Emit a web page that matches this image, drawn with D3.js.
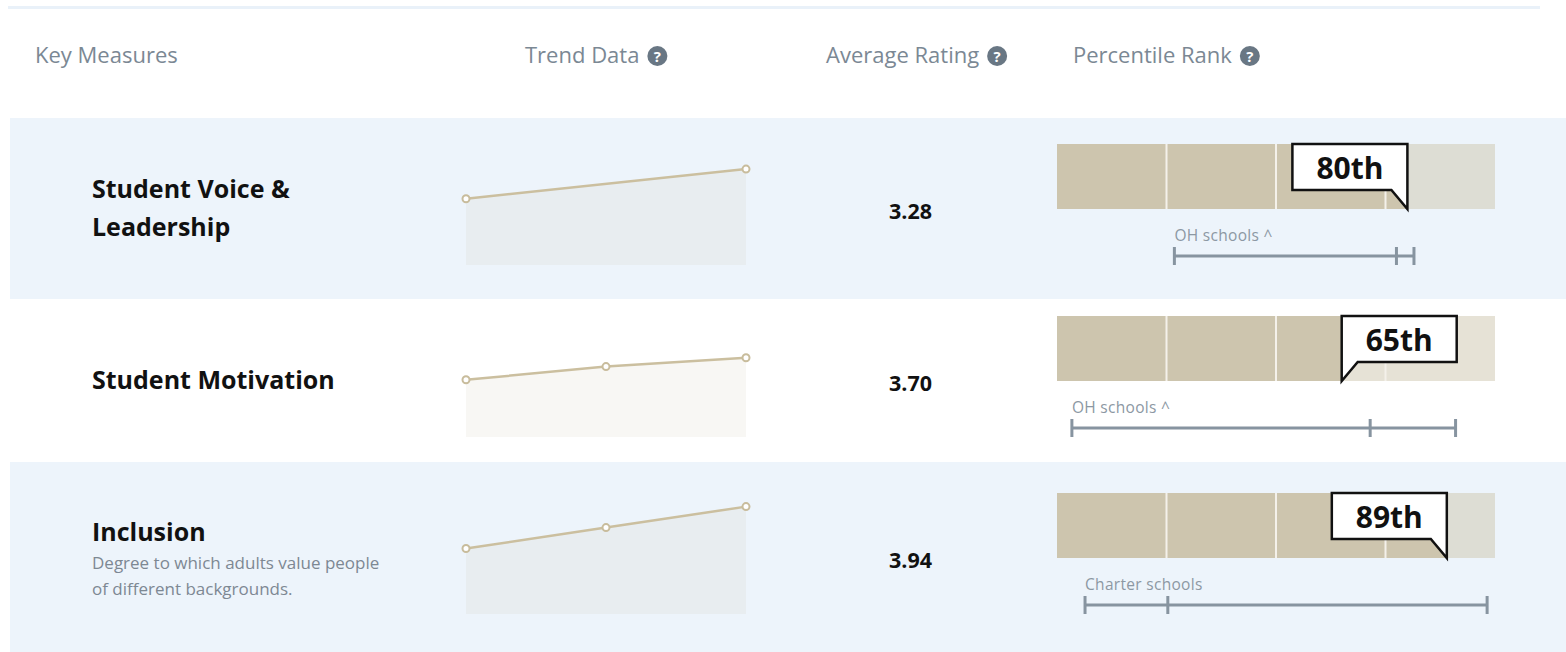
<!DOCTYPE html>
<html>
<head>
<meta charset="utf-8">
<script src="https://cdn.jsdelivr.net/npm/d3@7"></script>
<style>
  body { margin: 0; background: #fff; }
  text { font-family: "Open Sans", "Noto Sans", sans-serif; }
</style>
</head>
<body>
<div id="chart"></div>
<script>
// Data
var headers = ["Key Measures", "Trend Data", "Average Rating", "Percentile Rank"];
var titleLines = [["Student Voice &", "Leadership"], ["Student Motivation"], ["Inclusion"]];
var descLines = [[], [], ["Degree to which adults value people", "of different backgrounds."]];
var averageRatings = [3.28, 3.70, 3.94];
var trendValues = [[3.07, 3.28], [3.55, 3.64, 3.70], [3.62, 3.78, 3.94]];
var trendDomains = [[2.60, 3.38], [3.16, 3.91], [3.12, 3.96]];
var percentiles = [80, 65, 89];
var compGroups = ["OH schools ^", "OH schools ^", "Charter schools"];
var rangeLow = [26.8, 3.4, 6.4];
var rangeMark = [77.5, 71.5, 25.3];
var rangeHigh = [81.5, 91, 98.2];

// Layout
var W = 1566, H = 652;
var rowTops = [118, 299, 462],
    rowBottoms = [299, 462, 660],
    rowMids = [208, 380, 557],
    rowFills = ["#edf4fb", "#ffffff", "#edf4fb"];
var beige = "#cdc5ae";

var svg = d3.select('#chart').append('svg')
    .attr('width', W)
    .attr('height', H);

// top rule
svg.append('rect')
    .attr('x', 8).attr('y', 6)
    .attr('width', 1532).attr('height', 3)
    .style('fill', '#e9f1f9');

// Header
var headerX = [35, 525, 826, 1073];
var hdr = svg.append('g');
headers.forEach(function(h, i) {
    var t = hdr.append('text')
        .text(h)
        .attr('x', headerX[i])
        .attr('y', 63)
        .attr('font-size', '22px')
        .style('fill', '#7b8894');
    if (i > 0) {
        var cx = headerX[i] + t.node().getComputedTextLength() + 18;
        hdr.append('circle')
            .attr('cx', cx).attr('cy', 56).attr('r', 10)
            .style('fill', '#697784');
        hdr.append('text')
            .text('?')
            .attr('x', cx).attr('y', 61.5)
            .attr('text-anchor', 'middle')
            .attr('font-size', '15px')
            .attr('font-weight', 700)
            .style('fill', '#fff');
    }
});

// Scales
var xPct = d3.scaleLinear().domain([0, 100]).range([1057, 1495]);

titleLines.forEach(function(lines, r) {
    var mid = rowMids[r];
    var row = svg.append('g');

    row.append('rect')
        .attr('x', 10).attr('y', rowTops[r])
        .attr('width', W - 10).attr('height', rowBottoms[r] - rowTops[r])
        .style('fill', rowFills[r]);

    // Titles
    var titleY;
    if (descLines[r].length) titleY = mid - 16;
    else titleY = mid - (lines.length - 1) * 19 + 9;
    lines.forEach(function(l, k) {
        row.append('text')
            .text(l)
            .attr('x', 92)
            .attr('y', titleY + k * 38)
            .attr('font-size', '25px')
            .attr('font-weight', 700)
            .style('fill', '#111');
    });
    descLines[r].forEach(function(l, k) {
        row.append('text')
            .text(l)
            .attr('x', 92)
            .attr('y', mid + 12 + k * 26)
            .attr('font-size', '17px')
            .style('fill', '#7d8893');
    });

    // Trend
    var vals = trendValues[r];
    var bottom = mid + 57;
    var xT = d3.scalePoint().domain(d3.range(vals.length)).range([466, 746]);
    var yT = d3.scaleLinear().domain(trendDomains[r]).range([bottom, bottom - 110]);
    var area = d3.area()
        .x(function(d, i) { return xT(i); })
        .y0(bottom)
        .y1(function(d) { return yT(d); });
    var line = d3.line()
        .x(function(d, i) { return xT(i); })
        .y(function(d) { return yT(d); });
    row.append('path')
        .attr('d', area(vals))
        .style('fill', beige)
        .style('fill-opacity', 0.14);
    row.append('path')
        .attr('d', line(vals))
        .style('fill', 'none')
        .style('stroke', '#cbbf9f')
        .style('stroke-width', 2.5);
    row.selectAll('.pt')
        .data(vals)
        .enter()
        .append('circle')
        .attr('cx', function(d, i) { return xT(i); })
        .attr('cy', function(d) { return yT(d); })
        .attr('r', 3.5)
        .style('fill', '#fff')
        .style('stroke', '#c8bc9c')
        .style('stroke-width', 2);

    // Average rating
    row.append('text')
        .text(averageRatings[r].toFixed(2))
        .attr('x', 910.5)
        .attr('y', mid + 11)
        .attr('text-anchor', 'middle')
        .attr('font-size', '21.5px')
        .attr('font-weight', 700)
        .style('fill', '#111');

    // Percentile bar
    var p = percentiles[r];
    var barTop = mid - 64, barH = 65, barBot = barTop + barH;
    row.append('rect')
        .attr('x', xPct(0)).attr('y', barTop)
        .attr('width', xPct(100) - xPct(0)).attr('height', barH)
        .style('fill', beige).style('fill-opacity', 0.5);
    row.append('rect')
        .attr('x', xPct(0)).attr('y', barTop)
        .attr('width', xPct(p) - xPct(0)).attr('height', barH)
        .style('fill', beige);
    row.selectAll('.div')
        .data([25, 50, 75])
        .enter()
        .append('line')
        .attr('x1', function(d) { return xPct(d); })
        .attr('x2', function(d) { return xPct(d); })
        .attr('y1', barTop).attr('y2', barBot)
        .style('stroke', '#f4f1ea')
        .style('stroke-width', 2);

    // Callout
    var bw = 115, bh = 46, tx = xPct(p), notch = 16, d;
    if (p >= 70) {
        var lx = tx - bw;
        d = 'M' + lx + ',' + barTop + 'H' + tx + 'V' + barBot +
            'L' + (tx - notch) + ',' + (barTop + bh) + 'H' + lx + 'Z';
    } else {
        var rx = tx + bw;
        d = 'M' + tx + ',' + barTop + 'H' + rx + 'V' + (barTop + bh) +
            'H' + (tx + notch) + 'L' + tx + ',' + barBot + 'Z';
    }
    row.append('path')
        .attr('d', d)
        .style('fill', '#fff')
        .style('stroke', '#111')
        .style('stroke-width', 2.5)
        .style('stroke-linejoin', 'miter');
    row.append('text')
        .text(p + 'th')
        .attr('x', p >= 70 ? tx - bw / 2 : tx + bw / 2)
        .attr('y', barTop + 35)
        .attr('text-anchor', 'middle')
        .attr('font-size', '30px')
        .attr('font-weight', 700)
        .style('fill', '#111');

    // Comparison range
    var ry = barBot + 47;
    row.append('text')
        .text(compGroups[r])
        .attr('x', xPct(rangeLow[r]))
        .attr('y', ry - 15)
        .attr('font-size', '15.5px')
        .style('letter-spacing', '0.3px')
        .style('fill', '#8c98a3');
    row.append('line')
        .attr('x1', xPct(rangeLow[r])).attr('x2', xPct(rangeHigh[r]))
        .attr('y1', ry).attr('y2', ry)
        .style('stroke', '#8794a0')
        .style('stroke-width', 3);
    row.selectAll('.tk')
        .data([rangeLow[r], rangeMark[r], rangeHigh[r]])
        .enter()
        .append('line')
        .attr('x1', function(d) { return xPct(d); })
        .attr('x2', function(d) { return xPct(d); })
        .attr('y1', ry - 9).attr('y2', ry + 9)
        .style('stroke', '#8794a0')
        .style('stroke-width', 3);
});
</script>
</body>
</html>
